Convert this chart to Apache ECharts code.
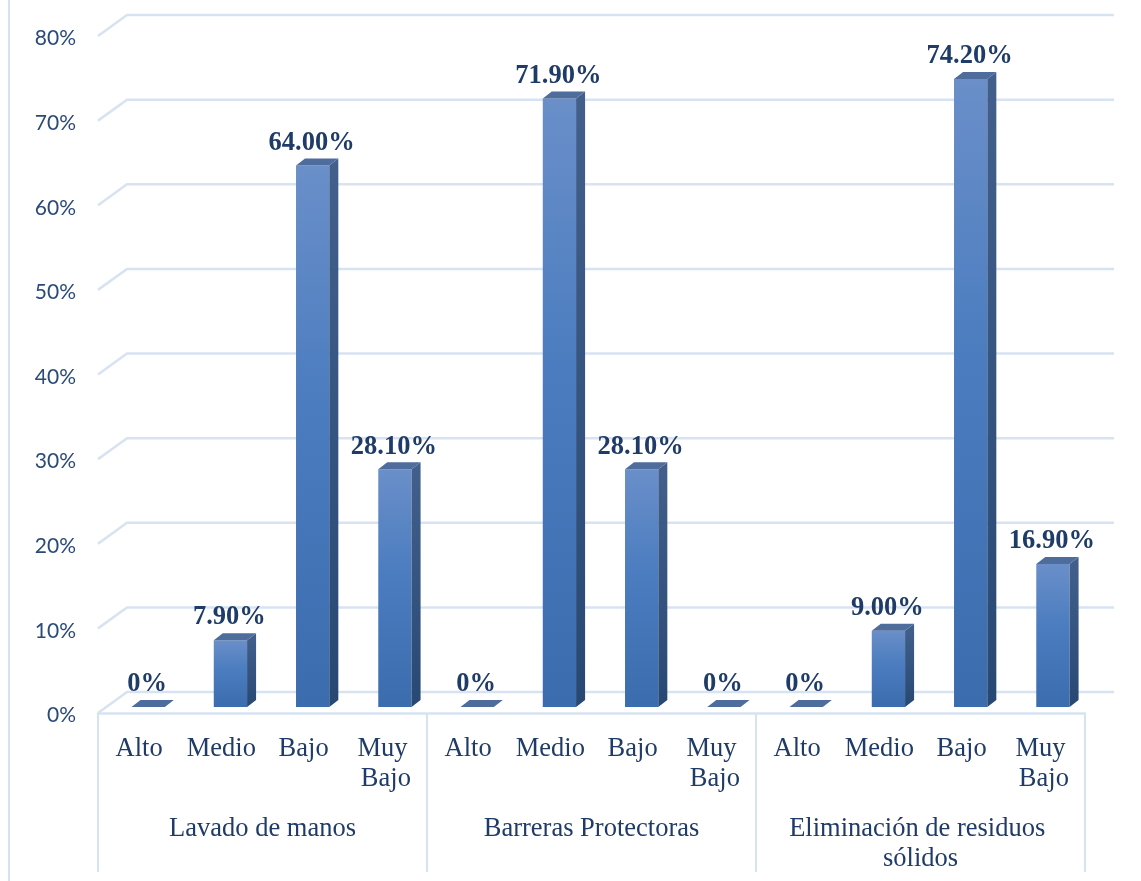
<!DOCTYPE html>
<html>
<head>
<meta charset="utf-8">
<title>Niveles por dimensión</title>
<script src="https://cdn.jsdelivr.net/npm/echarts@6/dist/echarts.min.js"></script>
<style>
  html, body { margin: 0; padding: 0; background: #ffffff; }
  #chart { width: 1141px; height: 881px; }
</style>
</head>
<body>
<div id="chart"></div>
<script>
// Levels shown inside each dimension
const categories = ['Alto', 'Medio', 'Bajo', 'Muy Bajo'];
// Dimensions (outer axis groups)
const groups = ['Lavado de manos', 'Barreras Protectoras', 'Eliminación de residuos sólidos'];
// Percentages per level, one array per dimension
const lavadoManos = [0, 7.9, 64.0, 28.1];
const barrerasProtectoras = [0, 71.9, 28.1, 0];
const eliminacionResiduos = [0, 9.0, 74.2, 16.9];
// Value axis ticks
const yTicks = [0, 10, 20, 30, 40, 50, 60, 70, 80];

const seriesValues = [lavadoManos, barrerasProtectoras, eliminacionResiduos];
const innerLabels = groups.flatMap(() => categories);
const barData = [];
seriesValues.forEach((arr, g) => arr.forEach((v, k) => barData.push([g * categories.length + k, v])));

const TEXT = '#1F3B68';
const SERIF = '"Liberation Serif", "Times New Roman", serif';
const GRID_LINE = '#D8E3F2';
const DEPTH_X = 29, DEPTH_Y = 21;   // offset of the back wall
const SIDE_X = 9, SIDE_Y = 7;       // depth of each prism

function fmtValue(v) {
  return v === 0 ? '0%' : v.toFixed(2) + '%';
}

// Back-wall gridlines with the slanted side-wall segment
function renderWall(params, api) {
  const rect = params.coordSys;
  const p = api.coord([0, api.value(1)]);
  const x0 = rect.x, y = p[1];
  return {
    type: 'polyline',
    shape: { points: [[x0, y], [x0 + DEPTH_X, y - DEPTH_Y], [x0 + rect.width + DEPTH_X, y - DEPTH_Y]] },
    style: { stroke: GRID_LINE, lineWidth: 2.5, fill: null },
    silent: true
  };
}

// Prism-shaped bar with front, side and top faces plus its value label
function renderBar(params, api) {
  const i = api.value(0), v = api.value(1);
  const base = api.coord([i, 0]);
  const top = api.coord([i, v]);
  const band = api.size([1, 0])[0];
  const w = band * 0.405;
  const x0 = base[0] - w / 2 + band * 0.11;
  const yb = base[1] - 6, yt = top[1] - 6;
  const h = yb - yt;
  const children = [];
  if (h > 0.5) {
    children.push({
      type: 'rect',
      shape: { x: x0, y: yt, width: w, height: h },
      style: {
        fill: new echarts.graphic.LinearGradient(0, 0, 0, 1, [
          { offset: 0, color: '#6A8FC9' },
          { offset: 0.45, color: '#4A7CBF' },
          { offset: 1, color: '#3B6CAE' }
        ])
      }
    });
    children.push({
      type: 'polygon',
      shape: { points: [[x0 + w, yb], [x0 + w + SIDE_X, yb - SIDE_Y], [x0 + w + SIDE_X, yt - SIDE_Y], [x0 + w, yt]] },
      style: {
        fill: new echarts.graphic.LinearGradient(0, 0, 0, 1, [
          { offset: 0, color: '#43608C' },
          { offset: 1, color: '#284874' }
        ])
      }
    });
  }
  children.push({
    type: 'polygon',
    shape: { points: [[x0, yt], [x0 + SIDE_X, yt - SIDE_Y], [x0 + w + SIDE_X, yt - SIDE_Y], [x0 + w, yt]] },
    style: { fill: '#4E6C9C' }
  });
  children.push({
    type: 'text',
    style: {
      text: fmtValue(v),
      x: x0 + w / 2 - 1,
      y: yt - SIDE_Y - 2,
      align: 'center',
      verticalAlign: 'bottom',
      fill: TEXT,
      fontFamily: SERIF,
      fontWeight: 'bold',
      fontSize: 26.5
    }
  });
  return { type: 'group', children };
}

const chart = echarts.init(document.getElementById('chart'), null, { renderer: 'canvas' });

chart.setOption({
  animation: false,
  backgroundColor: '#ffffff',
  grid: { left: 98, right: 56, top: 36, bottom: 168, containLabel: false },
  graphic: [{
    type: 'line',
    shape: { x1: 9, y1: 0, x2: 9, y2: 881 },
    style: { stroke: '#D6E1F1', lineWidth: 2 },
    silent: true
  }],
  xAxis: [{
    type: 'category',
    data: innerLabels,
    position: 'bottom',
    axisLine: { show: true, lineStyle: { color: GRID_LINE, width: 2.5 } },
    axisTick: { show: false },
    axisLabel: {
      interval: 0,
      margin: 21,
      color: TEXT,
      fontFamily: SERIF,
      fontSize: 26.5,
      lineHeight: 30,
      width: 80,
      overflow: 'break'
    },
    splitLine: { show: false }
  }, {
    type: 'category',
    data: groups,
    position: 'bottom',
    axisLine: { show: false },
    axisTick: { show: true, interval: 0, length: 159, lineStyle: { color: GRID_LINE, width: 2 } },
    axisLabel: {
      interval: 0,
      margin: 101,
      color: TEXT,
      fontFamily: SERIF,
      fontSize: 26.5,
      lineHeight: 30,
      width: 310,
      overflow: 'break'
    },
    splitLine: { show: false }
  }],
  yAxis: {
    type: 'value',
    min: 0,
    max: 80,
    interval: 10,
    axisLine: { show: false },
    axisTick: { show: false },
    splitLine: { show: false },
    axisLabel: {
      margin: 22,
      color: '#2A4A7A',
      fontFamily: 'Lato, "Open Sans", sans-serif',
      fontSize: 21,
      verticalAlign: 'top',
      padding: [-8, 0, 0, 0],
      formatter: '{value}%'
    }
  },
  series: [{
    type: 'custom',
    name: 'pared',
    xAxisIndex: 0,
    yAxisIndex: 0,
    z: 1,
    silent: true,
    clip: false,
    renderItem: renderWall,
    data: yTicks.map(t => [0, t])
  }, {
    type: 'custom',
    name: 'niveles',
    xAxisIndex: 0,
    yAxisIndex: 0,
    z: 3,
    clip: false,
    renderItem: renderBar,
    data: barData
  }]
});
</script>
</body>
</html>
